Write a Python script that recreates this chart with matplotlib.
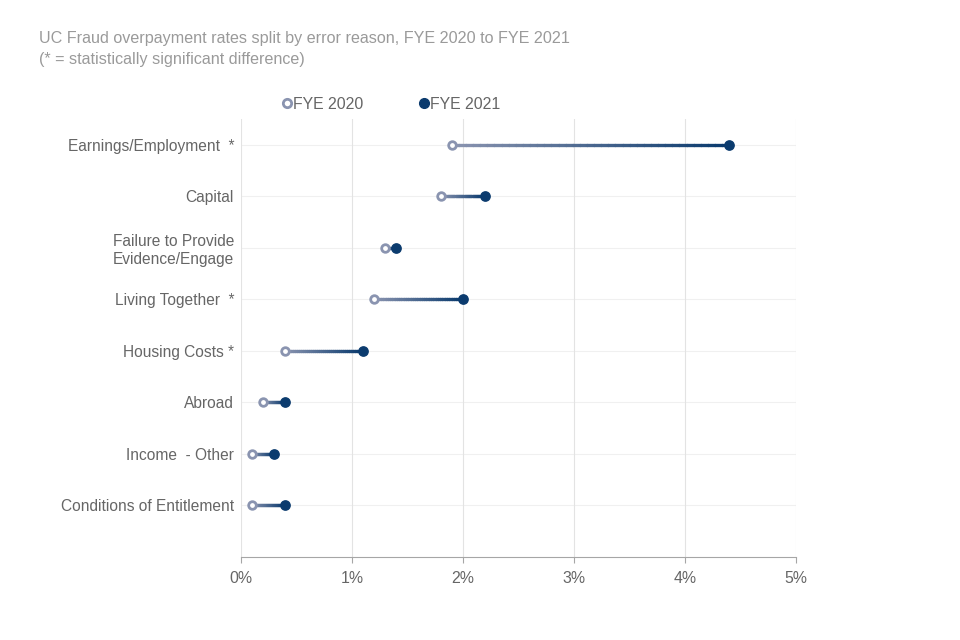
import matplotlib
matplotlib.use("Agg")
import matplotlib.pyplot as plt
import numpy as np
from matplotlib.collections import LineCollection
from matplotlib.colors import LinearSegmentedColormap
from matplotlib.lines import Line2D

plt.rcParams['font.family'] = ['Liberation Sans', 'DejaVu Sans']

categories = ["Earnings/Employment  *", "Capital", "Failure to Provide\nEvidence/Engage",
              "Living Together  *", "Housing Costs *", "Abroad", "Income  - Other",
              "Conditions of Entitlement"]
fye2020 = [1.9, 1.8, 1.3, 1.2, 0.4, 0.2, 0.1, 0.1]
fye2021 = [4.4, 2.2, 1.4, 2.0, 1.1, 0.4, 0.3, 0.4]
xticks = [0, 1, 2, 3, 4, 5]

light = "#8a94b0"
dark = "#0b3b6e"
cmap = LinearSegmentedColormap.from_list("grad", [light, dark])

fig = plt.figure(figsize=(9.6, 6.4), dpi=100)
ax = fig.add_axes([0.251, 0.130, 0.578, 0.684])

ypos = np.arange(len(categories))

# faint row lines
for y in ypos:
    ax.axhline(y, color="#f0f0f0", lw=0.8, zorder=0)

# gradient connectors
for y, a, b in zip(ypos, fye2020, fye2021):
    xs = np.linspace(a, b, 40)
    pts = np.array([xs, np.full_like(xs, y)]).T.reshape(-1, 1, 2)
    segs = np.concatenate([pts[:-1], pts[1:]], axis=1)
    lc = LineCollection(segs, cmap=cmap, linewidth=2.4, zorder=2, capstyle="round")
    lc.set_array(np.linspace(0, 1, len(segs)))
    ax.add_collection(lc)

ax.scatter(fye2020, ypos, s=30, facecolor="white", edgecolor=light, linewidth=2, zorder=3)
ax.scatter(fye2021, ypos, s=45, color=dark, zorder=3)

ax.set_xlim(0, 5)
ax.set_ylim(8.0, -0.5)
ax.set_xticks(xticks)
ax.set_xticklabels([f"{t}%" for t in xticks])
ax.set_yticks(ypos)
ax.set_yticklabels(categories, linespacing=1.25)
ax.grid(axis="x", color="#e3e3e3", lw=0.8)
ax.set_axisbelow(True)
for s in ["top", "right", "left"]:
    ax.spines[s].set_visible(False)
ax.spines["bottom"].set_color("#a6a6a6")
ax.tick_params(axis="y", length=0, pad=5, labelsize=11.2, labelcolor="#666666")
ax.tick_params(axis="x", length=4, color="#a6a6a6", labelsize=11.4, labelcolor="#666666", pad=6)

fig.text(0.041, 0.952, "UC Fraud overpayment rates split by error reason, FYE 2020 to FYE 2021\n"
         "(* = statistically significant difference)", fontsize=11.6, color="#9a9a9a",
         va="top", ha="left", linespacing=1.55)

handles = [Line2D([], [], marker="o", ls="", markersize=6, markerfacecolor="white",
                  markeredgecolor=light, markeredgewidth=2, label="FYE 2020"),
           Line2D([], [], marker="o", ls="", markersize=7, color=dark, label="FYE 2021")]
fig.legend(handles=handles, loc="center left", bbox_to_anchor=(0.276, 0.837), ncol=2,
           frameon=False, fontsize=11.4, labelcolor="#666666", handletextpad=-0.1,
           columnspacing=3.3, handlelength=1.0)

fig.savefig("out.png", dpi=100)
